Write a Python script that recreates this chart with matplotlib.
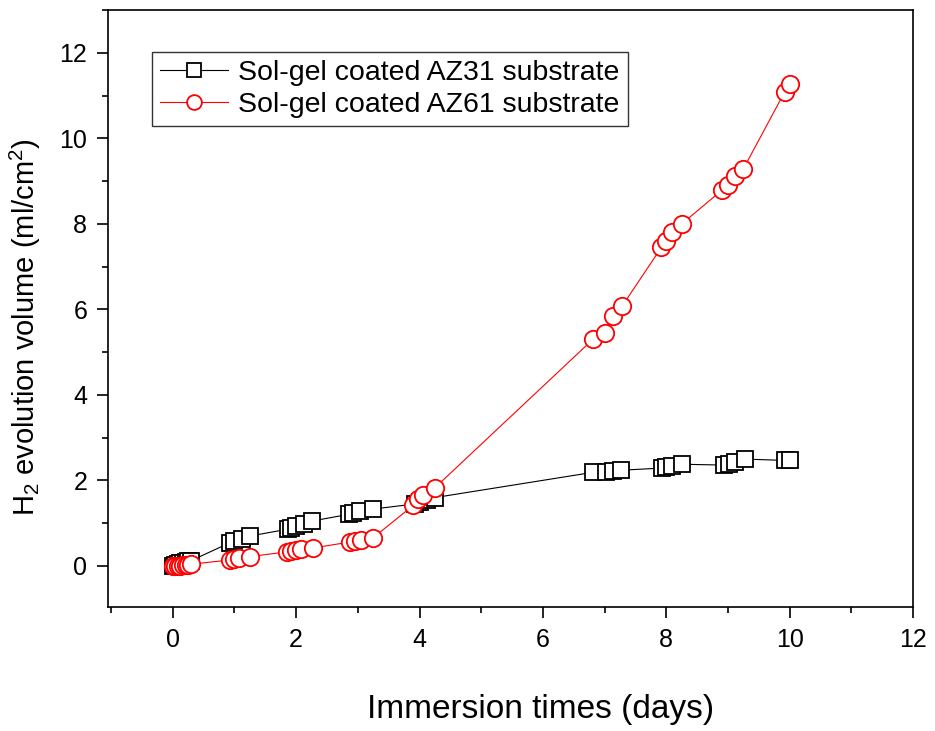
import matplotlib
matplotlib.use('Agg')

import matplotlib.pyplot as plt
from matplotlib.ticker import MultipleLocator

plt.rcParams['font.family'] = ['Liberation Sans', 'DejaVu Sans']
plt.rcParams['mathtext.default'] = 'regular'

# AZ31 (squares)
az31_days = [0, 0.04, 0.08, 0.125, 0.17, 0.21, 0.25, 0.29,
             0.92, 1.0, 1.12, 1.25,
             1.86, 1.92, 2.0, 2.12, 2.25,
             2.86, 2.92, 3.04, 3.24,
             3.92, 4.0, 4.12, 4.25,
             6.81, 7.02, 7.13, 7.26,
             7.93, 8.0, 8.1, 8.26,
             8.93, 9.02, 9.12, 9.27,
             9.92, 10.0]
az31_vol = [0.0, 0.02, 0.04, 0.06, 0.08, 0.1, 0.11, 0.12,
            0.54, 0.58, 0.63, 0.70,
            0.86, 0.9, 0.94, 0.99, 1.05,
            1.21, 1.24, 1.28, 1.33,
            1.45, 1.5, 1.55, 1.6,
            2.19, 2.2, 2.22, 2.24,
            2.29, 2.31, 2.34, 2.38,
            2.36, 2.39, 2.43, 2.5,
            2.47, 2.49]

# AZ61 (circles)
az61_days = [0, 0.04, 0.08, 0.125, 0.17, 0.21, 0.25, 0.29,
             0.92, 1.0, 1.08, 1.25,
             1.85, 1.92, 2.0, 2.08, 2.27,
             2.87, 2.95, 3.05, 3.24,
             3.9, 3.97, 4.05, 4.25,
             6.81, 7.0, 7.13, 7.28,
             7.92, 7.99, 8.1, 8.25,
             8.91, 9.0, 9.12, 9.25,
             9.92, 10.0]
az61_vol = [0.0, 0.0, 0.01, 0.01, 0.02, 0.02, 0.03, 0.04,
            0.14, 0.16, 0.18, 0.22,
            0.33, 0.35, 0.37, 0.39, 0.42,
            0.56, 0.58, 0.61, 0.65,
            1.42, 1.56, 1.66, 1.83,
            5.3, 5.44, 5.84, 6.07,
            7.45, 7.61, 7.82, 8.0,
            8.8, 8.92, 9.13, 9.29,
            11.09, 11.27]

fig = plt.figure(figsize=(9.35, 7.31), dpi=100)
ax = fig.add_axes([0.1155, 0.1696, 0.861, 0.8164])

ax.plot(az31_days, az31_vol, '-s', color='black', lw=0.8, ms=11.5,
        mfc='white', mec='black', mew=1.3, label='Sol-gel coated AZ31 substrate')
ax.plot(az61_days, az61_vol, '-o', color='red', lw=0.8, ms=12.5,
        mfc='white', mec='red', mew=1.3, label='Sol-gel coated AZ61 substrate')

ax.set_xlim(-1.05, 12)
ax.set_ylim(-0.96, 13)
ax.xaxis.set_major_locator(MultipleLocator(2))
ax.xaxis.set_minor_locator(MultipleLocator(1))
ax.yaxis.set_major_locator(MultipleLocator(2))
ax.yaxis.set_minor_locator(MultipleLocator(1))
ax.tick_params(which='major', direction='out', length=8, width=1.2,
               labelsize=18, pad=7)
ax.tick_params(which='minor', direction='out', length=4, width=1.2)
for s in ax.spines.values():
    s.set_linewidth(1.2)

ax.set_xlabel('Immersion times (days)', fontsize=24, labelpad=30, x=0.537)
ax.set_ylabel(r'H$_2$ evolution volume (ml/cm$^2$)', fontsize=21,
              labelpad=12, y=0.47)

leg = ax.legend(loc='upper left', bbox_to_anchor=(0.0547, 0.93), fontsize=20.5,
                frameon=True, fancybox=False, edgecolor='black',
                handlelength=2.4, borderpad=0.28, labelspacing=0.22,
                handletextpad=0.35, borderaxespad=0, markerscale=0.85)
leg.get_frame().set_linewidth(1.0)

fig.savefig('out.png', dpi=100)
